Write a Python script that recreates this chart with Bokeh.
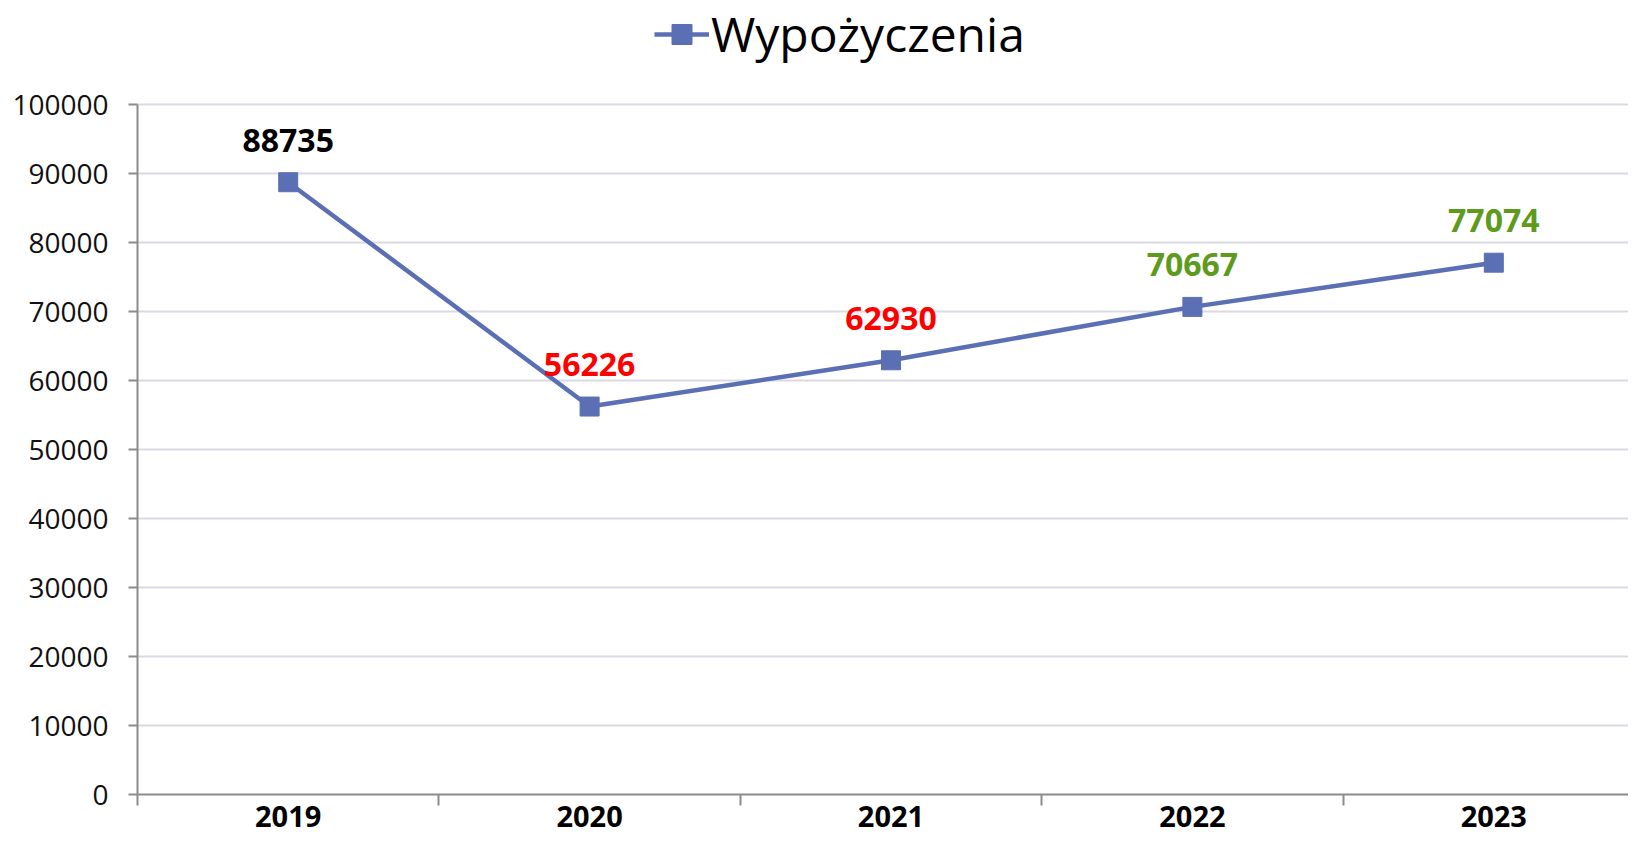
from bokeh.plotting import figure
from bokeh.models import (ColumnDataSource, Range1d, FixedTicker, Legend, LegendItem,
                          NumeralTickFormatter)
from bokeh.core.properties import value
from bokeh.embed import file_html
from bokeh.resources import INLINE

# ---- data ----
years = ["2019", "2020", "2021", "2022", "2023"]
loans = [88735, 56226, 62930, 70667, 77074]
series_name = "Wypożyczenia"
y_ticks = [0, 10000, 20000, 30000, 40000, 50000, 60000, 70000, 80000, 90000, 100000]
y_axis_max = 100000

# ---- layout / styles ----
W, H = 1628, 845
FRAME_LEFT = 137
FRAME_BOTTOM_PX = 794      # pixel row of value 0
TOP_TICK_PX = 104          # pixel row of value 100000
CAT_PX = 301.4             # pixel width of one category
label_colors = ["#000000", "#ff0000", "#ff0000", "#5e9a1c", "#5e9a1c"]
LINE_COLOR = "#5b6fb4"
FONT = "Open Sans"

px_per_unit = (FRAME_BOTTOM_PX - TOP_TICK_PX) / y_axis_max
y_top = y_axis_max + TOP_TICK_PX / px_per_unit
x_end = -0.5 + (W - FRAME_LEFT) / CAT_PX

xs = list(range(len(years)))
src = ColumnDataSource(dict(x=xs, y=loans, txt=[str(v) for v in loans], col=label_colors))

p = figure(width=W, height=H, output_backend="svg", toolbar_location=None,
           x_range=Range1d(-0.5, x_end), y_range=Range1d(0, y_top),
           min_border_left=FRAME_LEFT, min_border_right=0, min_border_top=0,
           min_border_bottom=H - FRAME_BOTTOM_PX)
p.outline_line_color = None
p.background_fill_color = "white"
p.border_fill_color = "white"

line = p.line("x", "y", source=src, line_color=LINE_COLOR, line_width=4.5)
pts = p.scatter("x", "y", source=src, marker="square", size=19,
                fill_color=LINE_COLOR, line_color=LINE_COLOR)

p.text("x", "y", text="txt", source=src, text_color="col",
       text_font=value(FONT), text_font_style="bold", text_font_size="32px",
       text_align="center", text_baseline="middle", y_offset=-42)

# x axis
p.xaxis.ticker = FixedTicker(ticks=xs, minor_ticks=[i - 0.5 for i in range(len(years) + 1)])
p.xaxis.major_label_overrides = {i: y for i, y in enumerate(years)}
p.xaxis.major_tick_line_color = None
p.xaxis.major_tick_out = 0
p.xaxis.major_tick_in = 0
p.xaxis.minor_tick_line_color = "#8c8c8c"
p.xaxis.minor_tick_line_width = 2
p.xaxis.minor_tick_out = 11
p.xaxis.minor_tick_in = 0
p.xaxis.axis_line_color = "#8c8c8c"
p.xaxis.axis_line_width = 2
p.xaxis.major_label_text_font = FONT
p.xaxis.major_label_text_font_style = "bold"
p.xaxis.major_label_text_font_size = "29px"
p.xaxis.major_label_text_color = "#000000"
p.xaxis.major_label_standoff = 0

# y axis
p.yaxis.ticker = FixedTicker(ticks=y_ticks)
p.yaxis.formatter = NumeralTickFormatter(format="0")
p.yaxis.bounds = (0, y_axis_max)
p.yaxis.axis_line_color = "#8c8c8c"
p.yaxis.axis_line_width = 2
p.yaxis.major_tick_line_color = "#8c8c8c"
p.yaxis.major_tick_line_width = 2
p.yaxis.major_tick_out = 9
p.yaxis.major_tick_in = 0
p.yaxis.minor_tick_line_color = None
p.yaxis.major_label_text_font = FONT
p.yaxis.major_label_text_font_size = "28px"
p.yaxis.major_label_text_color = "#111111"
p.yaxis.major_label_standoff = 20

p.xgrid.grid_line_color = None
p.ygrid.grid_line_color = "#d9dae3"
p.ygrid.grid_line_width = 2

legend = Legend(items=[LegendItem(label=series_name, renderers=[line, pts])],
                location=(517, 728), orientation="horizontal",
                label_text_font=FONT, label_text_font_size="48px",
                label_text_color="#000000",
                glyph_width=55, glyph_height=50, label_standoff=2,
                background_fill_alpha=0, border_line_color=None,
                padding=0, margin=0)
p.add_layout(legend, "center")

open("out.html", "w").write(file_html(p, INLINE))
